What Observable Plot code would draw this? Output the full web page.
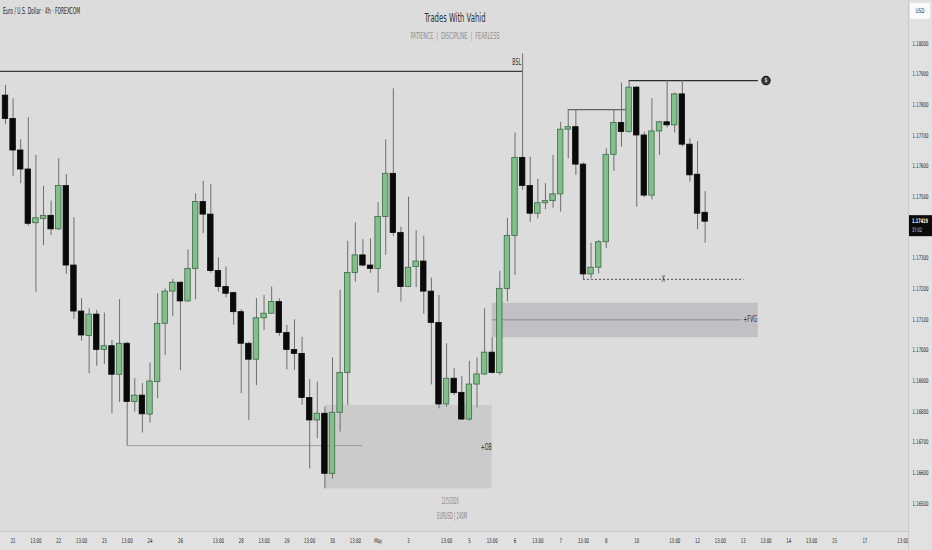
<!DOCTYPE html>
<html><head><meta charset="utf-8">
<script src="https://cdn.jsdelivr.net/npm/d3@7"></script>
<script src="https://cdn.jsdelivr.net/npm/@observablehq/plot@0.6"></script>
<style>
html,body{margin:0;padding:0;background:#dcdcdc;}
#chart{width:932px;height:550px;position:relative;overflow:hidden;background:#dcdcdc;}
</style></head><body><div id="chart"></div>
<script>
// ---- candle data (EUR/USD 4h) ----
const opens = [1.17830,1.17754,1.17651,1.17589,1.17414,1.17428,1.17438,1.17394,1.17535,1.17276,
1.17126,1.17046,1.17116,1.17001,1.17013,1.16920,1.17021,1.16831,1.16852,1.16790,
1.16896,1.17086,1.17191,1.17220,1.17159,1.17265,1.17483,1.17442,1.17258,1.17206,
1.17186,1.17124,1.17021,1.16969,1.17104,1.17119,1.17157,1.17056,1.17001,1.16988,
1.16844,1.16771,1.16793,1.16597,1.16796,1.16926,1.17252,1.17309,1.17276,1.17265,
1.17434,1.17575,1.17382,1.17206,1.17271,1.17289,1.17191,1.17089,1.16823,1.16907,
1.16861,1.16774,1.16888,1.16921,1.16992,1.16926,1.17200,1.17372,1.17627,1.17535,
1.17445,1.17479,1.17486,1.17508,1.17719,1.17727,1.17605,1.17247,1.17269,1.17352,
1.17637,1.17741,1.17711,1.17856,1.17700,1.17504,1.17713,1.17743,1.17733,1.17834,
1.17670,1.17572,1.17448];
const closes = [1.17754,1.17651,1.17589,1.17412,1.17430,1.17438,1.17394,1.17535,1.17276,1.17126,
1.17048,1.17116,1.17001,1.17013,1.16920,1.17021,1.16831,1.16852,1.16791,1.16898,
1.17086,1.17191,1.17220,1.17159,1.17265,1.17483,1.17442,1.17258,1.17206,1.17184,
1.17124,1.17021,1.16969,1.17104,1.17119,1.17157,1.17056,1.17001,1.16988,1.16844,
1.16771,1.16793,1.16597,1.16796,1.16926,1.17252,1.17309,1.17276,1.17265,1.17434,
1.17575,1.17382,1.17206,1.17269,1.17289,1.17191,1.17089,1.16823,1.16907,1.16860,
1.16774,1.16888,1.16921,1.16992,1.16926,1.17200,1.17372,1.17627,1.17535,1.17445,
1.17479,1.17486,1.17508,1.17719,1.17727,1.17605,1.17247,1.17269,1.17352,1.17637,
1.17741,1.17711,1.17856,1.17700,1.17504,1.17713,1.17743,1.17733,1.17834,1.17670,
1.17570,1.17445,1.17419];
const highs = [1.17863,1.17820,1.17686,1.17758,1.17635,1.17534,1.17486,1.17624,1.17573,1.17432,
1.17168,1.17135,1.17130,1.17121,1.17032,1.17165,1.17026,1.16907,1.16891,1.16958,
1.17184,1.17200,1.17231,1.17222,1.17327,1.17510,1.17550,1.17540,1.17301,1.17271,
1.17189,1.17132,1.17026,1.17168,1.17178,1.17206,1.17168,1.17081,1.17099,1.17042,
1.16904,1.16896,1.16814,1.16975,1.17195,1.17355,1.17415,1.17360,1.17363,1.17481,
1.17686,1.17852,1.17401,1.17499,1.17390,1.17372,1.17235,1.17178,1.17021,1.16940,
1.16914,1.16964,1.16975,1.17135,1.17041,1.17257,1.17430,1.17708,1.17966,1.17629,
1.17557,1.17543,1.17635,1.17743,1.17784,1.17784,1.17610,1.17349,1.17358,1.17657,
1.17784,1.17871,1.17879,1.17860,1.17711,1.17820,1.17746,1.17879,1.17838,1.17879,
1.17689,1.17680,1.17517];
const lows = [1.17735,1.17567,1.17543,1.17404,1.17189,1.17341,1.17374,1.17390,1.17247,1.17100,
1.17029,1.16923,1.16948,1.16954,1.16793,1.16829,1.16689,1.16798,1.16730,1.16762,
1.16842,1.16983,1.17110,1.16934,1.17157,1.17165,1.17380,1.17251,1.17189,1.17171,
1.17081,1.16858,1.16771,1.16885,1.17064,1.17117,1.17045,1.16936,1.16934,1.16820,
1.16613,1.16711,1.16548,1.16579,1.16733,1.16820,1.17222,1.17271,1.17251,1.17186,
1.17309,1.17371,1.17157,1.17204,1.17204,1.17117,1.16887,1.16809,1.16814,1.16852,
1.16771,1.16769,1.16812,1.16918,1.16923,1.16918,1.17157,1.17244,1.17521,1.17417,
1.17428,1.17458,1.17463,1.17450,1.17624,1.17570,1.17231,1.17233,1.17249,1.17331,
1.17583,1.17662,1.17708,1.17466,1.17497,1.17490,1.17635,1.17724,1.17708,1.17662,
1.17548,1.17393,1.17349];

// ---- axis ticks ----
const timeTickIndex = [1,4,7,10,13,16,19,23,28,31,34,37,40,43,46,49,53,58,61,64,67,70,73,76,79,83,88,91,94,97,100,103,106,109,113,118];
const timeTickLabels = ["21","13:00","22","13:00","23","13:00","24","26","13:00","28","13:00","29","13:00","30","13:00","May","3","13:00","5","13:00","6","13:00","7","13:00","8","10","13:00","12","13:00","13","13:00","14","13:00","15","17","13:00"];
const priceTicks = [1.165,1.166,1.167,1.168,1.169,1.170,1.171,1.172,1.173,1.175,1.176,1.177,1.178,1.179,1.180];

// ---- annotations ----
const zoneNames  = ["OB","FVG"];
const zoneFrom   = [42, 64];
const zoneTo     = [64, 99];
const zoneTop    = [1.16820, 1.17153];
const zoneBottom = [1.16548, 1.17041];

const levelNames = ["BSL","EQH","INNER","SSL","FVGMID","XLINE"];
const levelPrice = [1.17909, 1.17879, 1.17784, 1.16689, 1.17099, 1.17231];
const levelFrom  = [-0.7, 82, 74, 16, 64, 76];
const levelTo    = [68, 99, 81.6, 47, 96.8, 97.1];

const labelText  = ["BSL","+OB","+FVG","X"];
const labelIdx   = [67.8, 62.5, 97.0, 86.5];
const labelPrice = [1.17938, 1.16684, 1.17101, 1.17231];
const labelAnchor= ["end","start","start","middle"];

const targetIdx = [100];
const targetPrice = [1.17879];

const lastPrice = 1.17419;
const countdown = "37:02";

// ---- build ----
const FONT = '"Liberation Sans Narrow","DejaVu Sans Condensed","Arial Narrow","Liberation Sans",sans-serif';
const GREEN = "#82bf8c", GREEN_EDGE = "#3b6a45", BLACK = "#0a0a0a", WICK = "#6e6e6e";
const candles = opens.map((o,i)=>({i, o, c:closes[i], h:highs[i], l:lows[i]}));
const up = candles.filter(d=>d.c>=d.o), down = candles.filter(d=>d.c<d.o);
const zones = zoneNames.map((n,k)=>({n, a:zoneFrom[k], b:zoneTo[k], t:zoneTop[k], btm:zoneBottom[k]}));
const levels = levelNames.map((n,k)=>({n, p:levelPrice[k], a:levelFrom[k], b:levelTo[k]}));
const labels = labelText.map((t,k)=>({t, x:labelIdx[k], y:labelPrice[k], anchor:labelAnchor[k]}));
const targets = targetIdx.map((x,k)=>({x, y:targetPrice[k]}));

const zoneFill = {OB:"#cbcbcb", FVG:"#c1c1c4"};
const lvStyle = {
  BSL:{stroke:"#3a3a3a", w:1.3}, EQH:{stroke:"#2c2c2c", w:1.2}, INNER:{stroke:"#444", w:1},
  SSL:{stroke:"#909090", w:0.8}, FVGMID:{stroke:"#8a8a8e", w:1}, XLINE:{stroke:"#2c2c2c", w:0.8, dash:"2,2"}
};

const W = 932, H = 550, HW = 0.36;
const marks = [];
zones.forEach(z => marks.push(Plot.rect([z], {x1:"a", x2:"b", y1:"btm", y2:"t", fill: zoneFill[z.n]})));
levels.forEach(l => marks.push(Plot.ruleY([l], {y:"p", x1:"a", x2:"b", stroke:lvStyle[l.n].stroke, strokeWidth:lvStyle[l.n].w, strokeDasharray:lvStyle[l.n].dash})));
marks.push(Plot.ruleX(candles, {x:"i", y1:"l", y2:"h", stroke:WICK, strokeWidth:1}));
marks.push(Plot.rect(up, {x1:d=>d.i-HW, x2:d=>d.i+HW, y1:"o", y2:"c", fill:GREEN, stroke:GREEN_EDGE, strokeWidth:0.8}));
marks.push(Plot.rect(down, {x1:d=>d.i-HW, x2:d=>d.i+HW, y1:"o", y2:"c", fill:BLACK, stroke:BLACK, strokeWidth:0.8}));
labels.forEach(lb => marks.push(Plot.text([lb], {x:"x", y:"y", text:"t", textAnchor:lb.anchor, fontSize:8, fill:"#2a2a2a"})));
marks.push(Plot.dot(targets, {x:"x", y:"y", r:4.2, stroke:"#1e1e1e", fill:"#3a3a3a", strokeWidth:1.1}));
marks.push(Plot.text(targets, {x:"x", y:"y", text:()=>"$", fontSize:6, fontWeight:"bold", fill:"#e8e8e8"}));
// price scale labels, right-aligned inside the price strip
marks.push(Plot.text(priceTicks, {y:d=>d, frameAnchor:"right", dx:20, textAnchor:"end", text:d=>d.toFixed(5), fontSize:6.5, fill:"#262626"}));

const plot = Plot.plot({
  width:W, height:H,
  marginLeft:0, marginRight:24, marginTop:0, marginBottom:19,
  style:{background:"transparent", fontFamily:FONT, fontSize:"6.5px", color:"#262626", overflow:"visible"},
  x:{domain:[-0.657,118.74], ticks:timeTickIndex, tickFormat:d=>timeTickLabels[timeTickIndex.indexOf(d)], tickSize:0, tickPadding:7, label:null},
  y:{domain:[1.16409,1.18140], axis:null},
  marks
});
document.getElementById("chart").appendChild(plot);

const svg = d3.select(plot);
const ys = plot.scale("y");
// axis strip backgrounds (behind everything)
svg.insert("rect", ":first-child").attr("x",0).attr("y",531).attr("width",W).attr("height",19).attr("fill","#e1e1e1");
svg.insert("rect", ":first-child").attr("x",908).attr("y",0).attr("width",24).attr("height",H).attr("fill","#e1e1e1");
svg.append("line").attr("x1",0).attr("x2",908).attr("y1",531.5).attr("y2",531.5).attr("stroke","#c8c8c8");
svg.append("line").attr("x1",908.5).attr("x2",908.5).attr("y1",0).attr("y2",H).attr("stroke","#cacaca");

// squeeze text horizontally (condensed look of the reference)
function fit(node, target){
  const w = node.getComputedTextLength();
  if (w > 0 && target > 0) { node.setAttribute("textLength", target); node.setAttribute("lengthAdjust","spacingAndGlyphs"); }
}
const probe = svg.append("text").attr("font-family",FONT).attr("font-size",6.5).text("1.18000");
const K = 16 / probe.node().getComputedTextLength();
probe.remove();
svg.selectAll("text").each(function(){
  fit(this, this.getComputedTextLength()*K);
});

function addText(x, y, str, size, color, anchor, width, weight){
  const t = svg.append("text").attr("x",x).attr("y",y).attr("dy","0.35em")
    .attr("font-family",FONT).attr("font-size",size).attr("fill",color)
    .attr("text-anchor",anchor).attr("font-weight",weight||"normal").text(str);
  if (width) fit(t.node(), width);
  return t;
}
// header / footer texts
addText(3, 11, "Euro / U.S. Dollar · 4h · FOREXCOM", 8, "#1e1e1e", "start", 77);
addText(455, 18, "Trades With Vahid", 12.5, "#333", "middle", 61);
addText(455, 36, "PATIENCE  |  DISCIPLINE  |  FEARLESS", 9, "#8c8c8c", "middle", 89);
addText(450, 501, "12/5/2026", 8, "#858585", "middle", 17);
addText(452, 516, "EURUSD | 240M", 8, "#858585", "middle", 30);
// currency box
svg.append("rect").attr("x",910).attr("y",3).attr("width",20).attr("height",16).attr("fill","#fafafa").attr("rx",1);
addText(920, 11, "USD", 6.5, "#333", "middle", 9);
// last price tag
const py = ys.apply(lastPrice);
svg.append("rect").attr("x",909).attr("y",py-6).attr("width",23).attr("height",21).attr("fill","#0c0c0c");
addText(928, py-0.5, lastPrice.toFixed(5), 6.2, "#fff", "end", 16, "bold");
addText(922, py+9, countdown, 6, "#ddd", "end", 10);
</script></body></html>
